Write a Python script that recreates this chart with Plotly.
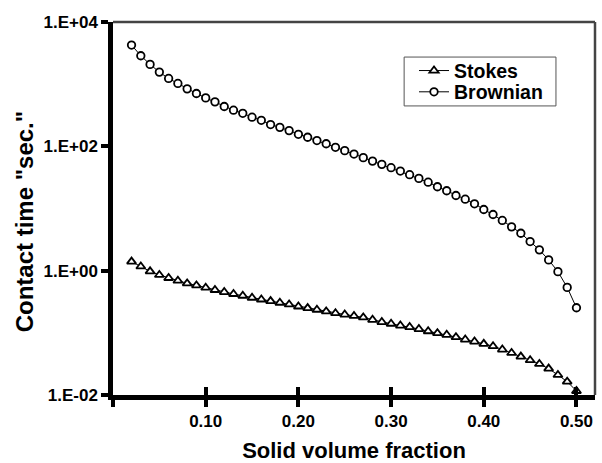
import plotly.graph_objects as go

# Solid volume fraction (x) and contact times (s) for the two mechanisms
phi = [round(0.02 + 0.01 * i, 2) for i in range(49)]

stokes = [1.40, 1.17, 0.975, 0.853, 0.762, 0.690, 0.624, 0.579, 0.532, 0.489,
          0.453, 0.421, 0.395, 0.367, 0.344, 0.324, 0.305, 0.286, 0.265, 0.250,
          0.235, 0.221, 0.207, 0.197, 0.187, 0.177, 0.162, 0.149, 0.140, 0.131,
          0.124, 0.115, 0.106, 0.0989, 0.0929, 0.0853, 0.0780, 0.0724, 0.0665, 0.0610,
          0.0538, 0.0475, 0.0415, 0.0363, 0.0316, 0.0266, 0.0210, 0.0164, 0.0116]

brownian = [4260, 2864, 2080, 1563, 1236, 1026, 841, 708, 601, 519,
            437, 381, 340, 294, 262, 224, 202, 179, 156, 140,
            124, 110, 96.4, 85.3, 75.2, 65.8, 57.9, 51.3, 45.3, 40.0,
            35.0, 30.5, 26.5, 22.4, 19.3, 16.2, 14.1, 11.9, 9.64, 8.00,
            6.43, 5.07, 4.00, 2.94, 2.16, 1.49, 0.964, 0.538, 0.253]

x_ticks = [0.0, 0.1, 0.2, 0.3, 0.4, 0.5]
x_ticktext = ["", "0.10", "0.20", "0.30", "0.40", "0.50"]
y_ticks = [1e-2, 1e0, 1e2, 1e4]
y_ticktext = ["1.E-02", "1.E+00", "1.E+02", "1.E+04"]

FONT = "Liberation Sans, Arial, sans-serif"

fig = go.Figure()
fig.add_trace(go.Scatter(
    x=phi, y=stokes, name="Stokes", mode="lines+markers", legend="legend",
    line=dict(color="black", width=1),
    marker=dict(symbol="triangle-up", size=8, color="white",
                line=dict(color="black", width=1.8)),
))
fig.add_trace(go.Scatter(
    x=phi, y=brownian, name="Brownian", mode="lines+markers", legend="legend2",
    line=dict(color="black", width=1),
    marker=dict(symbol="circle", size=7.5, color="white",
                line=dict(color="black", width=1.8)),
))

tickfont = dict(family=FONT, size=17, color="black", weight="bold")
titlefont = dict(family=FONT, size=22, color="black", weight="bold")
legendfont = dict(family=FONT, size=19.5, color="black", weight="bold")

legend_common = dict(xanchor="left", yanchor="middle", bgcolor="rgba(0,0,0,0)",
                     borderwidth=0, font=legendfont, itemwidth=30)

fig.update_layout(
    width=602, height=463,
    margin=dict(l=113, r=7, t=22, b=68, autoexpand=False),
    paper_bgcolor="white", plot_bgcolor="white",
    showlegend=True,
    legend=dict(x=0.6245, y=0.869, **legend_common),
    legend2=dict(x=0.6245, y=0.812, **legend_common),
    xaxis=dict(
        range=[0, 0.52], tickmode="array", tickvals=x_ticks, ticktext=x_ticktext,
        ticks="outside", ticklen=7, tickwidth=3.5, tickcolor="black",
        showline=True, linewidth=4.5, linecolor="black", showgrid=False,
        zeroline=False, tickfont=tickfont, ticklabelstandoff=0,
        automargin=False,
        title=dict(text="Solid volume fraction", font=titlefont, standoff=19),
    ),
    # inner half of the crossing x ticks
    xaxis2=dict(
        range=[0, 0.52], overlaying="x", side="bottom", tickmode="array",
        tickvals=x_ticks, ticktext=[""] * len(x_ticks),
        ticks="inside", ticklen=8, tickwidth=3.5, tickcolor="black",
        showline=False, showgrid=False, zeroline=False, showticklabels=False,
        automargin=False,
    ),
    yaxis=dict(
        type="log", range=[-2, 4], tickmode="array", tickvals=y_ticks,
        ticktext=y_ticktext, ticks="outside", ticklen=7, tickwidth=3.5,
        tickcolor="black", showline=True, linewidth=4.5, linecolor="black",
        showgrid=False, zeroline=False, tickfont=tickfont, automargin=False,
    ),
)

# dummy trace to activate the overlaid tick axis
fig.add_trace(go.Scatter(x=[None], y=[None], xaxis="x2", showlegend=False,
                         hoverinfo="skip"))

# y-axis title
fig.add_annotation(
    text='Contact time "sec."', textangle=-90, xref="paper", yref="paper",
    x=-0.183, y=0.465, xanchor="center", yanchor="middle", showarrow=False,
    font=dict(family=FONT, size=24, color="black", weight="bold"),
)

# legend frame
fig.add_shape(type="rect", xref="paper", yref="paper",
              x0=0.604, x1=0.919, y0=0.775, y1=0.906,
              line=dict(color="#555", width=1), fillcolor="rgba(0,0,0,0)")

# thin top and right frame lines
fig.add_shape(type="line", xref="paper", yref="paper", x0=0, x1=1, y0=1, y1=1,
              line=dict(color="#444", width=2.5))
fig.add_shape(type="line", xref="paper", yref="paper", x0=1, x1=1, y0=0, y1=1,
              line=dict(color="#444", width=2.5))

fig.write_html("out.html")
